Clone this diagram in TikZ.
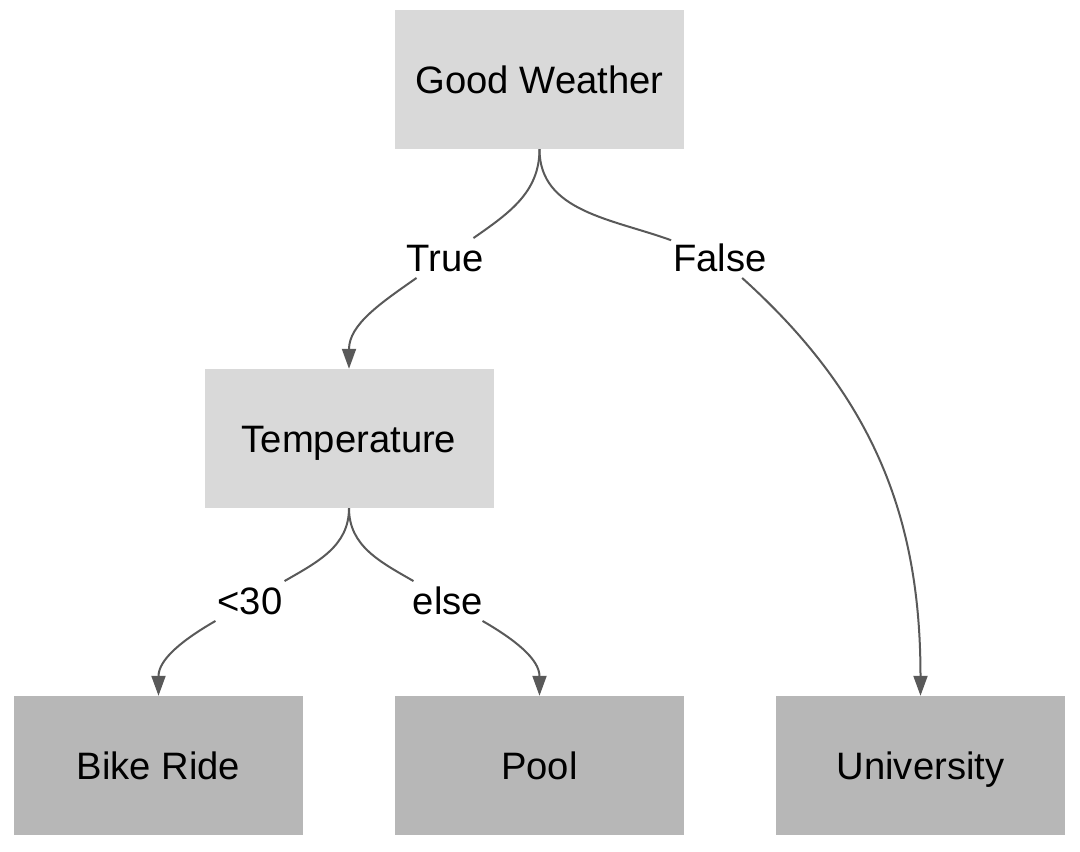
\documentclass[tikz,border=0pt]{standalone}
\usepackage{fontspec}
\setmainfont{Liberation Sans}
\usetikzlibrary{arrows.meta}
\definecolor{decisionfill}{HTML}{D9D9D9}
\definecolor{leaffill}{HTML}{B7B7B7}
\definecolor{edgegray}{HTML}{595959}
\tikzset{
  box/.style={rectangle, inner sep=0pt, minimum width=289pt, minimum height=139pt,
    font=\fontsize{38.2}{46}\selectfont, text height=27.5pt, text depth=0pt},
  decision/.style={box, fill=decisionfill},
  leaf/.style={box, fill=leaffill},
  edgelabel/.style={fill=white, inner xsep=2pt, inner ysep=6pt, font=\fontsize{38.2}{46}\selectfont,
    text height=27.5pt, text depth=0pt},
  branch/.style={draw=edgegray, line width=2pt},
  arrowbranch/.style={branch, -{Triangle[length=20pt, width=14pt]}}
}
\begin{document}
\begin{tikzpicture}[x=1pt, y=-1pt]
\useasboundingbox (0,0) rectangle (1080,852);
\node[decision] (weather) at (539.5,79.5) {Good Weather};
\node[decision] (temp) at (349,438.5) {Temperature};
\node[leaf] (bike) at (158.5,765.5) {Bike Ride};
\node[leaf] (pool) at (539.5,765.5) {Pool};
\node[leaf] (uni) at (920.5,765.5) {University};
\node[edgelabel] (ltrue) at (445,258) {True};
\node[edgelabel] (lfalse) at (720,258) {False};
\node[edgelabel] (lcold) at (250,601) {<30};
\node[edgelabel] (lelse) at (448,601) {else};
% weather branches
\draw[branch] (weather.south) to[out=-90, in=35] (ltrue);
\draw[arrowbranch] (ltrue) to[out=215, in=90] (temp.north);
\draw[branch] (weather.south) to[out=-90, in=160] (lfalse);
\draw[arrowbranch] (lfalse) to[out=-42, in=90] (uni.north);
% temperature branches
\draw[branch] (temp.south) to[out=-90, in=30] (lcold);
\draw[arrowbranch] (lcold) to[out=210, in=90] (bike.north);
\draw[branch] (temp.south) to[out=-90, in=150] (lelse);
\draw[arrowbranch] (lelse) to[out=-30, in=90] (pool.north);
\end{tikzpicture}
\end{document}
